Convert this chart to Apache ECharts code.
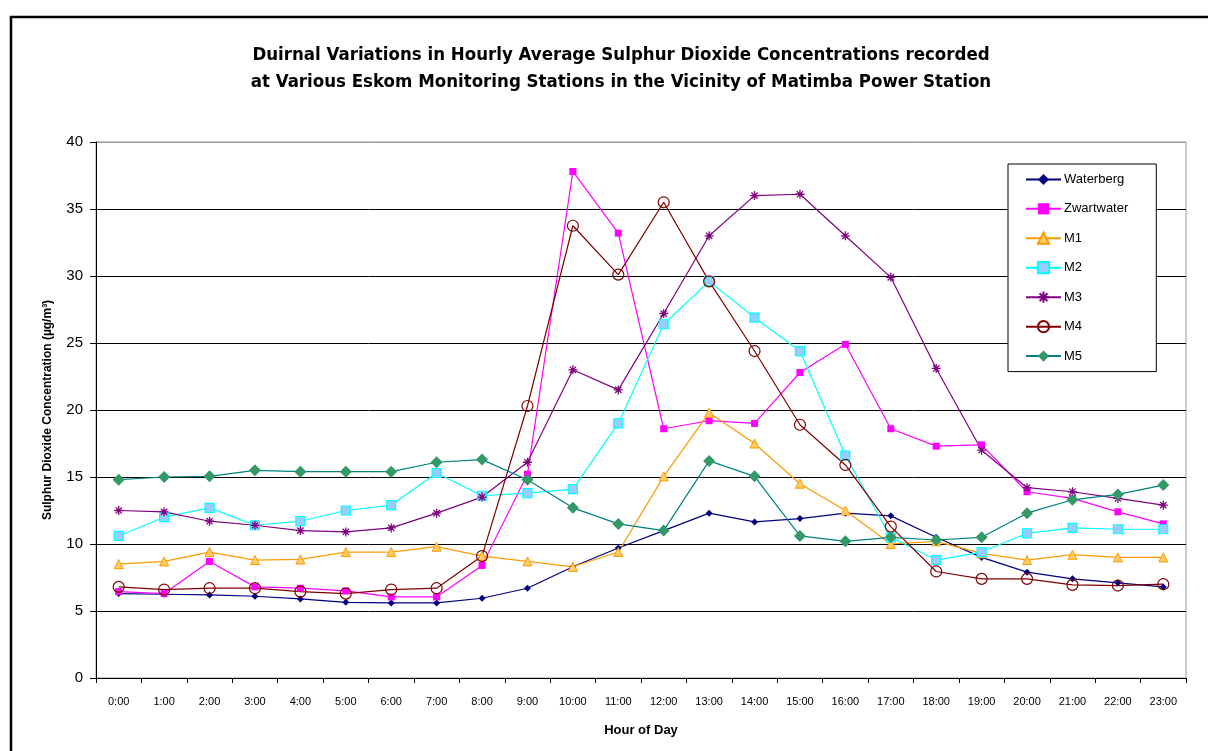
<!DOCTYPE html>
<html>
<head>
<meta charset="utf-8">
<script src="https://cdn.jsdelivr.net/npm/echarts@6/dist/echarts.min.js"></script>
<style>
  html, body { margin: 0; padding: 0; background: #ffffff; }
  #chart { width: 1208px; height: 751px; }
</style>
</head>
<body>
<div id="chart"></div>
<script>
// Hour-of-day categories
const hours = ['0:00','1:00','2:00','3:00','4:00','5:00','6:00','7:00','8:00','9:00','10:00','11:00',
               '12:00','13:00','14:00','15:00','16:00','17:00','18:00','19:00','20:00','21:00','22:00','23:00'];

// Hourly average SO2 concentrations (µg/m³) per station
const waterberg  = [6.3, 6.25, 6.2, 6.1, 5.9, 5.65, 5.6, 5.6, 5.95, 6.7, 8.3, 9.7, 11.0, 12.3, 11.65, 11.9, 12.3, 12.1, 10.5, 9.0, 7.9, 7.4, 7.1, 6.8];
const zwartwater = [6.45, 6.3, 8.7, 6.8, 6.7, 6.5, 6.05, 6.05, 8.4, 15.2, 37.8, 33.2, 18.6, 19.2, 19.0, 22.8, 24.9, 18.6, 17.3, 17.4, 13.9, 13.4, 12.4, 11.5];
const m1 = [8.5, 8.7, 9.4, 8.8, 8.85, 9.4, 9.4, 9.8, 9.1, 8.7, 8.3, 9.4, 15.05, 19.8, 17.5, 14.5, 12.5, 10.0, 10.2, 9.3, 8.8, 9.2, 9.0, 9.0];
const m2 = [10.6, 12.0, 12.7, 11.4, 11.7, 12.5, 12.9, 15.3, 13.6, 13.8, 14.1, 19.0, 26.4, 29.6, 26.9, 24.4, 16.6, 10.5, 8.8, 9.4, 10.8, 11.2, 11.1, 11.1];
const m3 = [12.5, 12.4, 11.7, 11.4, 11.0, 10.9, 11.2, 12.3, 13.5, 16.1, 23.0, 21.5, 27.2, 33.0, 36.0, 36.1, 33.0, 29.9, 23.1, 17.0, 14.2, 13.9, 13.4, 12.9];
const m4 = [6.8, 6.6, 6.7, 6.7, 6.45, 6.3, 6.6, 6.7, 9.1, 20.3, 33.75, 30.1, 35.5, 29.6, 24.4, 18.9, 15.9, 11.3, 7.95, 7.4, 7.4, 6.95, 6.9, 7.0];
const m5 = [14.8, 15.0, 15.05, 15.5, 15.4, 15.4, 15.4, 16.1, 16.3, 14.8, 12.7, 11.5, 11.0, 16.2, 15.05, 10.6, 10.2, 10.5, 10.3, 10.5, 12.3, 13.3, 13.7, 14.4];

// Value axis ticks
const yTicks = [0, 5, 10, 15, 20, 25, 30, 35, 40];

// Asterisk marker drawn as stroked strokes
const starPath = 'path://M0,5 L10,5 M5,0 L5,10 M1.5,1.5 L8.5,8.5 M1.5,8.5 L8.5,1.5';

const FONT = '"Liberation Sans", Arial, sans-serif';

function lineSeries(name, data, color, symbol, size, fill, border, bw) {
  return {
    name: name,
    type: 'line',
    data: data,
    symbol: symbol,
    symbolSize: size,
    showAllSymbol: true,
    lineStyle: { color: color, width: 1.2 },
    itemStyle: { color: fill, borderColor: border, borderWidth: bw },
    emphasis: { disabled: true },
    animation: false
  };
}

const chart = echarts.init(document.getElementById('chart'), null, { renderer: 'canvas' });

chart.setOption({
  backgroundColor: '#ffffff',
  animation: false,
  title: {
    text: 'Duirnal Variations in Hourly Average Sulphur Dioxide Concentrations recorded\nat Various Eskom Monitoring Stations in the Vicinity of Matimba Power Station',
    left: 616,
    top: 37,
    textAlign: 'center',
    textStyle: {
      fontFamily: '"DejaVu Sans Condensed", "DejaVu Sans", sans-serif',
      fontSize: 18.5,
      fontWeight: 'bold',
      color: '#000000',
      lineHeight: 27
    }
  },
  graphic: [{
    type: 'rect',
    shape: { x: 11, y: 17, width: 1220, height: 760 },
    style: { fill: 'none', stroke: '#000000', lineWidth: 2.5 },
    z: 100
  }],
  legend: {
    orient: 'vertical',
    left: 1008,
    top: 164,
    width: 148,
    backgroundColor: '#ffffff',
    borderColor: '#000000',
    borderWidth: 1,
    padding: [9, 28, 9, 17],
    itemWidth: 35,
    itemHeight: 14,
    itemGap: 16.3,
    textStyle: { fontFamily: FONT, fontSize: 13, color: '#000000', padding: [0, 0, 0, -2] },
    data: ['Waterberg', 'Zwartwater', 'M1', 'M2', 'M3', 'M4', 'M5']
  },
  grid: {
    left: 96,
    right: 22,
    top: 142,
    bottom: 73,
    show: true,
    borderColor: '#999999',
    borderWidth: 1,
    backgroundColor: 'transparent'
  },
  xAxis: {
    type: 'category',
    data: hours,
    boundaryGap: true,
    name: 'Hour of Day',
    nameLocation: 'middle',
    nameGap: 46,
    nameTextStyle: { fontFamily: FONT, fontSize: 13, fontWeight: 'bold', color: '#000000' },
    axisLine: { lineStyle: { color: '#000000', width: 1 } },
    axisTick: { show: true, inside: false, length: 5, interval: 0, lineStyle: { color: '#000000' } },
    axisLabel: { interval: 0, fontFamily: FONT, fontSize: 11, color: '#000000', margin: 18 },
    splitLine: { show: false }
  },
  yAxis: {
    type: 'value',
    min: yTicks[0],
    max: yTicks[yTicks.length - 1],
    interval: 5,
    name: 'Sulphur Dioxide Concentration (µg/m³)',
    nameLocation: 'middle',
    nameGap: 42,
    nameTextStyle: { fontFamily: FONT, fontSize: 12, fontWeight: 'bold', color: '#000000' },
    axisLine: { show: true, lineStyle: { color: '#000000', width: 1 } },
    axisTick: { show: true, inside: false, length: 6, lineStyle: { color: '#000000' } },
    axisLabel: { fontFamily: FONT, fontSize: 15, color: '#000000', margin: 13 },
    splitLine: {
      show: true,
      lineStyle: {
        color: ['#000000', '#000000', '#000000', '#000000', '#000000', '#000000', '#000000', '#000000', '#999999'],
        width: 1
      }
    }
  },
  series: [
    lineSeries('Waterberg', waterberg, '#000080', 'diamond', 7, '#000080', '#000080', 0),
    lineSeries('Zwartwater', zwartwater, '#ff00ff', 'rect', 7, '#ff00ff', '#ff00ff', 0),
    lineSeries('M1', m1, '#ff9900', 'triangle', 9, '#ffcc66', '#ff9900', 1),
    lineSeries('M2', m2, '#00ffff', 'rect', 9, '#99ccff', '#00ffff', 1.2),
    lineSeries('M3', m3, '#800080', starPath, 9, 'rgba(0,0,0,0)', '#800080', 1.3),
    lineSeries('M4', m4, '#800000', 'circle', 11, 'rgba(255,255,255,0)', '#800000', 1.2),
    lineSeries('M5', m5, '#008080', 'diamond', 12, '#339966', '#339966', 0)
  ]
});
</script>
</body>
</html>
